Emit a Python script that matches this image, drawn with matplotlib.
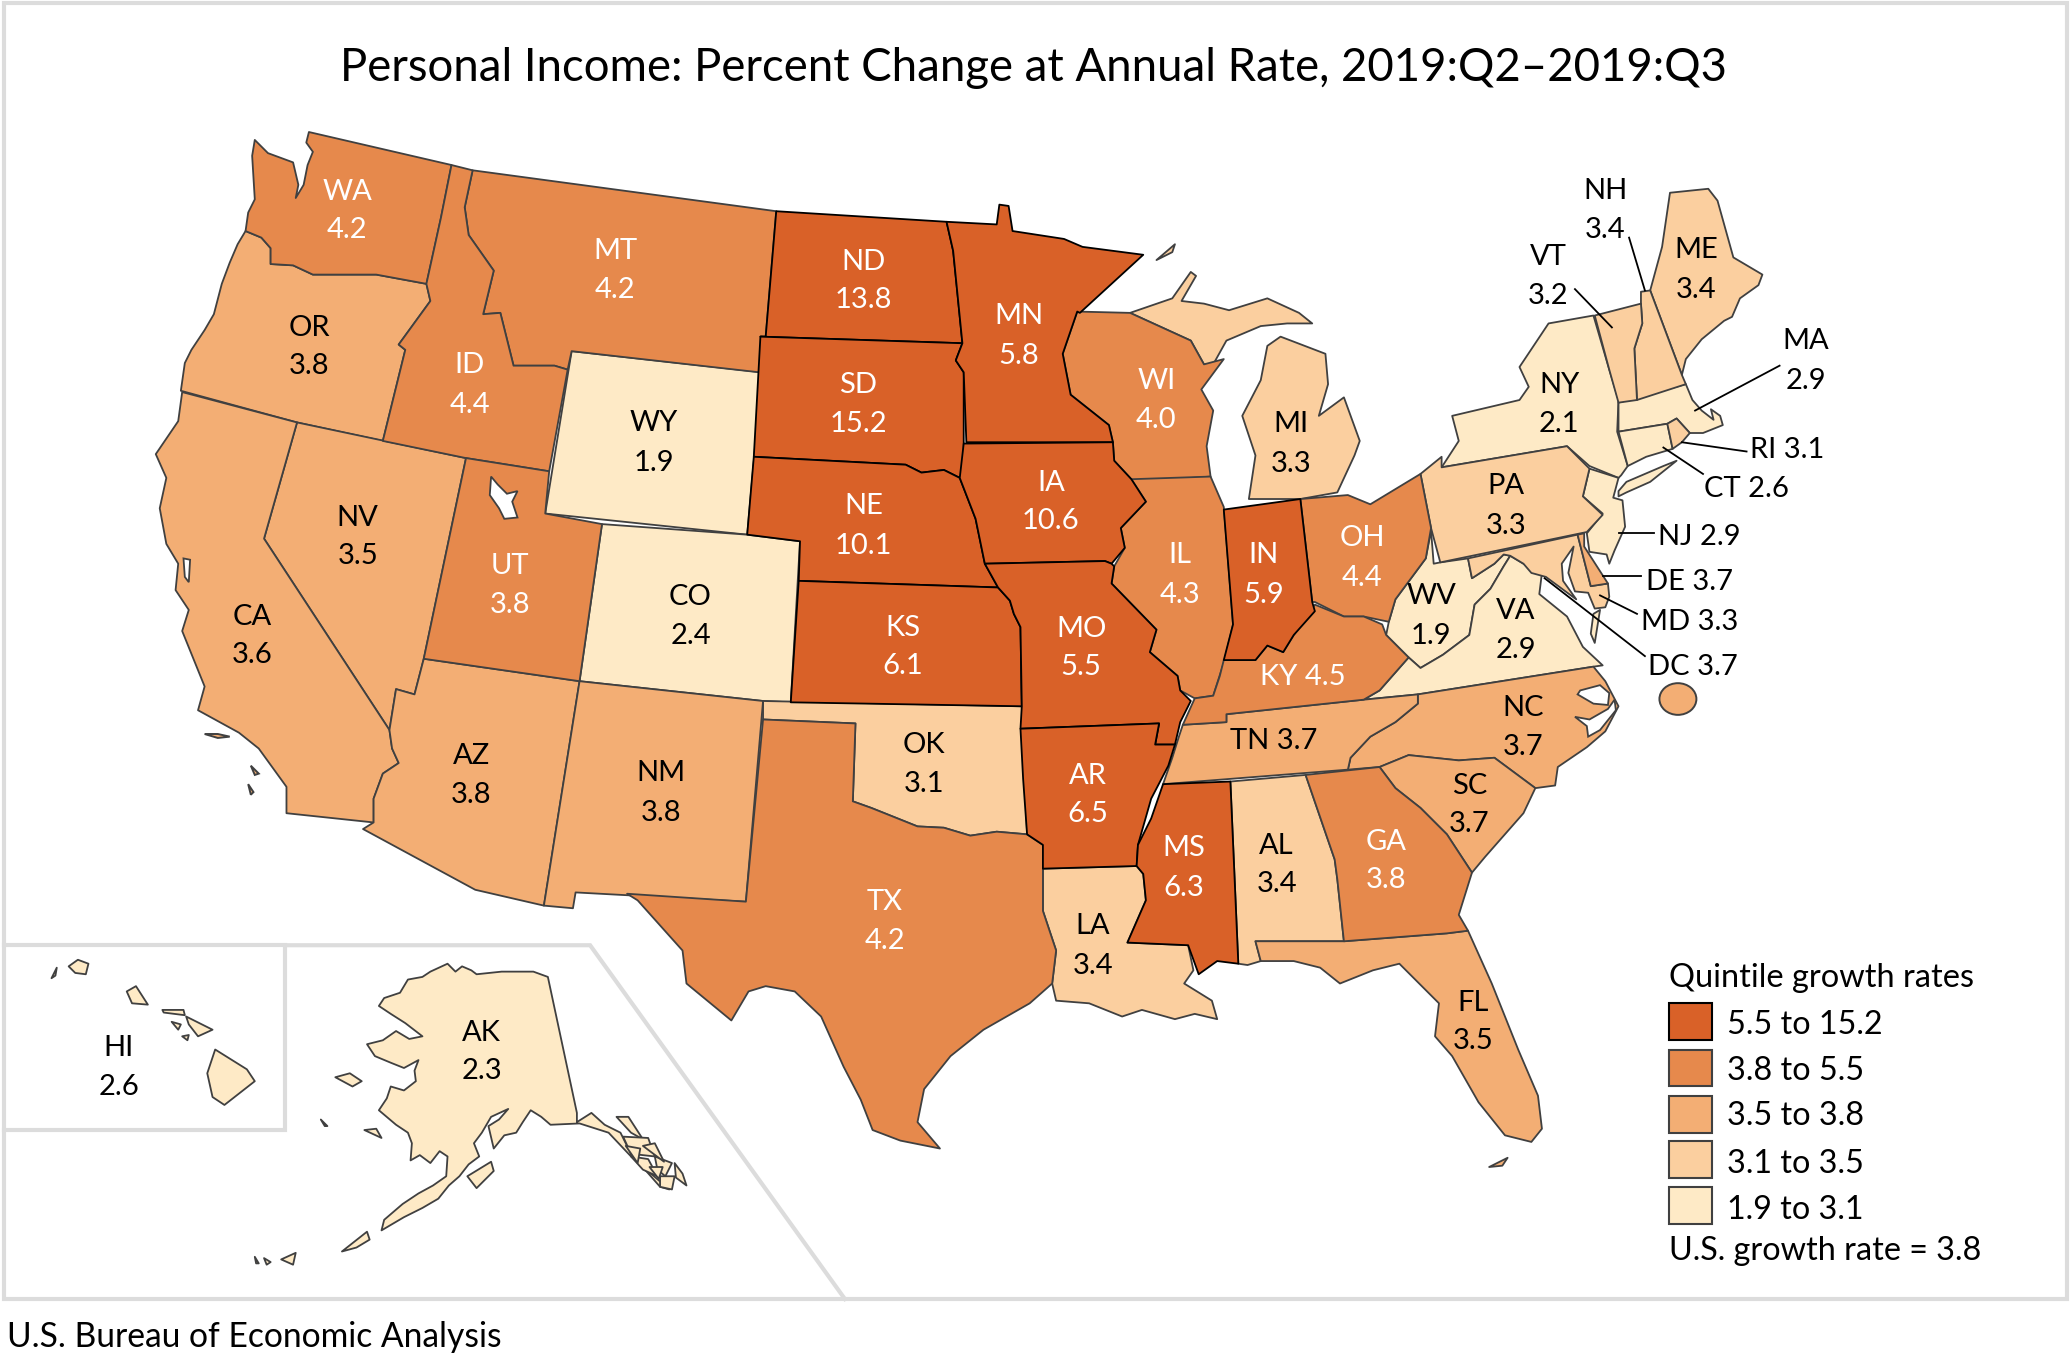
import matplotlib
matplotlib.use("Agg")
import matplotlib.pyplot as plt
from matplotlib.patches import Polygon, Rectangle, Ellipse

plt.rcParams['font.family'] = ['Lato', 'DejaVu Sans']

TITLE = "Personal Income: Percent Change at Annual Rate, 2019:Q2\u20132019:Q3"
SOURCE = "U.S. Bureau of Economic Analysis"
LEGEND_TITLE = "Quintile growth rates"
LEGEND_LABELS = ["5.5 to 15.2", "3.8 to 5.5", "3.5 to 3.8", "3.1 to 3.5", "1.9 to 3.1"]
US_NOTE = "U.S. growth rate = 3.8"
PALETTE = ["#d96128", "#e6894c", "#f3ae74", "#fbcf9f", "#feeac6"]

STATES = ["WA","MT","ND","OR","ID","WY","SD","MN","WI","MI","NV","UT","CO","NE","IA","IL","IN","OH","PA","NY",
          "ME","NH","VT","MA","CA","KS","MO","WV","VA","AZ","NM","OK","AR","NC","SC","TX","MS","AL","GA","LA",
          "FL","HI","AK","KY","TN","RI","CT","NJ","DE","MD","DC"]
VALUES = [4.2,4.2,13.8,3.8,4.4,1.9,15.2,5.8,4.0,3.3,3.5,3.8,2.4,10.1,10.6,4.3,5.9,4.4,3.3,2.1,
          3.4,3.4,3.2,2.9,3.6,6.1,5.5,1.9,2.9,3.8,3.8,3.1,6.5,3.7,3.7,4.2,6.3,3.4,3.8,3.4,
          3.5,2.6,2.3,4.5,3.7,3.1,2.6,2.9,3.7,3.3,3.7]
QUINTILE = [1,1,0,2,1,4,0,0,1,3,2,1,4,0,0,1,0,1,3,4,
            3,3,3,4,2,0,0,4,4,2,2,3,0,2,2,1,0,3,1,3,
            2,4,4,1,2,3,4,4,2,3,2]

# Base-map geography (outlines, in image units)
OUTLINES = {
"WA":[[(234,100),(342,125),(334,165),(323,215),(285,208),(258,208),(237,208),(222,201),(205,200),(205,188),(198,180),(186,175),(188,161),(193,151),(191,118),(193,106),(203,116),(222,123),(226,140),(224,150),(230,140),(233,125),(237,115),(232,108)]],
"OR":[[(186,175),(198,180),(205,188),(205,200),(222,201),(237,208),(258,208),(285,208),(323,215),(326,228),(302,261),(307,265),(290,334),(225,320),(137,296),(140,275),(145,265),(155,250),(162,238),(168,215),(174,199),(180,185)]],
"CA":[[(138,297),(225,320),(200,408),(295,553),(297,567),(302,578),(290,586),(283,605),(283,623),(217,616),(217,596),(196,567),(181,555),(150,538),(155,520),(138,478),(143,462),(133,447),(135,427),(126,412),(121,385),(126,362),(118,344),(135,319)]],
"NV":[[(225,320),(353,347),(321,499),(314,526),(300,522),(295,553),(200,408)]],
"ID":[[(342,125),(358,129),(352,157),(355,178),(374,205),(366,238),(379,237),(389,277),(420,277),(430,280),(416,357),(353,347),(290,334),(307,265),(302,261),(326,228),(323,215),(334,165)]],
"MT":[[(358,129),(588,160),(580,255),(575,282),(433,266),(430,280),(420,277),(389,277),(379,237),(366,238),(374,205),(355,178),(352,157)]],
"ND":[[(588,160),(717,168),(722,190),(727,240),(729,260),(576,255),(580,255)]],
"SD":[[(576,255),(729,260),(724,273),(730,282),(730,362),(727,362),(715,356),(698,358),(686,352),(571,346)]],
"WY":[[(433,266),(577,282),(566,405),(413,389)]],
"UT":[[(353,347),(416,357),(413,389),(456,397),(439,516),(321,499)]],
"CO":[[(456,397),(566,405),(606,410),(599,532),(578,531),(439,516)]],
"NE":[[(571,346),(686,352),(698,358),(715,356),(727,362),(739,393),(746,427),(756,445),(605,440),(606,410),(566,405)]],
"KS":[[(605,440),(756,445),(765,455),(768,465),(773,475),(774,535),(599,532)]],
"AZ":[[(321,499),(439,516),(412,686),(360,674),(275,628),(283,623),(283,605),(290,586),(302,578),(297,567),(295,553),(300,522),(314,526)]],
"NM":[[(439,516),(578,531),(565,683),(436,676),(434,688),(412,686)]],
"OK":[[(578,531),(774,535),(778,632),(755,630),(735,633),(715,627),(695,626),(675,618),(660,612),(646,607),(648,548),(578,545)]],
"TX":[[(578,545),(648,548),(646,607),(660,612),(675,618),(695,626),(715,627),(735,633),(755,630),(778,632),(790,640),(790,690),(800,720),(797,745),(780,760),(745,780),(720,800),(700,825),(695,850),(712,870),(682,864),(661,856),(652,833),(639,808),(622,770),(602,751),(580,747),(567,751),(554,773),(520,745),(517,720),(483,682),(475,677),(565,683)]],
"MN":[[(717,168),(755,170),(757,155),(764,156),(767,175),(806,181),(820,187),(866,193),(818,237),(816,236),(805,268),(811,299),(840,322),(843,335),(732,335),(730,282),(724,273),(729,260),(727,240),(722,190)]],
"IA":[[(730,336),(843,335),(844,349),(857,363),(868,380),(849,400),(852,415),(842,427),(837,425),(746,427),(739,393),(727,362)]],
"MO":[[(746,427),(837,425),(842,427),(844,429),(842,442),(876,477),(871,494),(892,512),(894,523),(902,531),(894,547),(890,564),(875,564),(878,548),(773,552),(774,535),(773,475),(768,465),(765,455),(756,445)]],
"AR":[[(773,552),(878,548),(875,564),(890,564),(885,580),(872,605),(862,640),(861,656),(790,658),(790,640),(778,632),(775,590)]],
"LA":[[(790,658),(861,656),(866,662),(868,682),(854,714),(900,716),(904,735),(897,745),(918,758),(922,772),(905,768),(890,772),(865,765),(850,770),(825,760),(800,758),(797,745),(800,720),(790,690)]],
"WI":[[(816,236),(856,237),(902,258),(912,276),(927,272),(910,295),(919,311),(914,338),(917,361),(859,365),(857,363),(844,349),(843,335),(840,322),(811,299),(805,268)]],
"IL":[[(857,363),(917,361),(927,384),(934,473),(927,502),(919,527),(905,529),(894,523),(892,512),(871,494),(876,477),(842,442),(844,429),(852,415),(849,400),(868,380)]],
"IN":[[(927,386),(985,378),(994,456),(996,463),(980,481),(972,494),(960,489),(951,500),(927,500),(934,473)]],
"OH":[[(985,378),(1021,375),(1038,382),(1076,359),(1084,400),(1080,423),(1057,454),(1052,471),(1033,467),(1018,467),(996,456),(994,456)]],
"KY":[[(927,500),(951,500),(960,489),(972,494),(980,481),(996,458),(1018,467),(1033,467),(1047,473),(1050,481),(1067,498),(1045,523),(1033,530),(929,541),(929,547),(896,549),(905,529),(919,527),(924,512)]],
"TN":[[(896,549),(929,547),(929,541),(1033,530),(1074,526),(1074,533),(1057,547),(1038,558),(1023,574),(1021,583),(881,594),(888,574),(893,558)]],
"MS":[[(881,594),(932,592),(938,730),(922,728),(908,738),(900,716),(854,714),(868,682),(866,662),(861,656),(862,640),(872,620)]],
"AL":[[(932,592),(989,587),(1011,651),(1013,666),(1018,713),(951,713),(955,728),(945,731),(938,730)]],
"GA":[[(989,587),(1045,581),(1057,597),(1076,612),(1096,632),(1115,661),(1105,693),(1112,705),(1096,707),(1018,713),(1013,666),(1011,651)]],
"FL":[[(951,713),(1018,713),(1096,707),(1112,705),(1130,745),(1150,795),(1165,830),(1168,855),(1160,865),(1140,860),(1120,835),(1100,800),(1087,785),(1090,760),(1060,730),(1040,735),(1015,745),(1000,733),(980,728),(955,728)],
      [(1128,884),(1142,877),(1138,883)]],
"SC":[[(1045,581),(1067,572),(1105,576),(1132,574),(1163,597),(1154,616),(1125,649),(1115,661),(1096,632),(1076,612),(1057,597)]],
"NC":[[(1074,526),(1207,505),(1216,516),(1226,535),(1216,554),(1202,566),(1180,581),(1178,595),(1163,597),(1132,574),(1105,576),(1067,572),(1045,581),(1021,583),(1023,574),(1038,558),(1057,547),(1074,533)]],
"VA":[[(1067,498),(1076,506),(1093,496),(1113,481),(1117,458),(1129,446),(1139,429),(1144,421),(1154,427),(1168,434),(1166,450),(1187,467),(1199,490),(1214,504),(1207,505),(1074,526),(1033,530),(1045,523)],
      [(1212,462),(1208,487),(1205,480),(1207,465)]],
"WV":[[(1084,402),(1086,427),(1091,426),(1112,423),(1115,438),(1132,427),(1139,420),(1144,421),(1139,429),(1129,446),(1117,458),(1113,481),(1093,496),(1076,506),(1067,498),(1050,481),(1052,471),(1057,454),(1080,423)]],
"PA":[[(1092,354),(1187,338),(1204,355),(1199,376),(1214,390),(1202,403),(1091,426),(1084,400),(1076,359),(1092,346)]],
"NY":[[(1092,354),(1105,334),(1100,315),(1151,303),(1158,293),(1151,278),(1173,245),(1207,239),(1219,280),(1226,303),(1225,327),(1233,353),(1228,360),(1226,362),(1204,353),(1187,338)],
      [(1226,372),(1232,365),(1260,353),(1270,349),(1250,365),(1232,373),(1226,376)]],
"NJ":[[(1204,355),(1226,362),(1222,377),(1229,379),(1231,399),(1223,417),(1219,427),(1217,420),(1204,418),(1202,404),(1214,389),(1199,376)]],
"DE":[[(1195,405),(1200,404),(1200,414),(1218,442),(1205,444)]],
"MD":[[(1112,423),(1195,405),(1205,444),(1218,442),(1219,452),(1216,460),(1208,461),(1203,449),(1193,448),(1188,434),(1192,414),(1183,427),(1184,440),(1194,454),(1171,437),(1160,434),(1154,427),(1144,421),(1139,420),(1132,427),(1115,438)]],
"VT":[[(1208,239),(1243,230),(1244,245),(1238,264),(1240,303),(1226,305),(1219,280)]],
"NH":[[(1243,221),(1250,220),(1274,284),(1277,291),(1240,303),(1238,264),(1244,245),(1243,230)]],
"ME":[[(1265,146),(1294,143),(1301,152),(1313,195),(1335,208),(1332,216),(1318,226),(1312,240),(1306,243),(1289,257),(1277,272),(1274,284),(1250,220),(1259,187)]],
"MA":[[(1226,305),(1277,291),(1282,303),(1289,311),(1298,318),(1296,310),(1303,315),(1305,322),(1290,328),(1284,328),(1280,328),(1270,317),(1263,321),(1226,327)]],
"RI":[[(1263,321),(1270,317),(1280,328),(1274,335),(1267,340)]],
"CT":[[(1226,327),(1263,321),(1267,340),(1247,346),(1233,353)]],
"MI":[[(946,378),(951,345),(941,315),(955,288),(960,262),(970,255),(1004,268),(1006,291),(999,315),(1018,301),(1030,334),(1026,345),(1013,373),(985,378)],
      [(856,237),(888,226),(902,206),(906,209),(895,228),(912,230),(931,235),(960,226),(984,237),(994,245),(975,245),(955,247),(929,258),(919,276),(912,276),(902,258)],
      [(876,197),(890,185),(888,191)]],
"HI":[[(52,732),(59,727),(67,730),(65,738),(57,737)],[(39,741),(43,733),(42,739)],[(96,751),(103,747),(112,761),(100,760)],
      [(123,765),(139,765),(140,769),(124,767)],[(130,774),(137,776),(135,780)],[(141,770),(161,780),(150,785),(143,776)],
      [(138,785),(143,784),(142,788)],[(163,795),(187,810),(193,819),(170,837),(161,831),(157,813)]],
"AK":[[(339,730),(345,736),(350,732),(357,735),(361,738),(380,736),(404,736),(415,740),(437,843),(437,850),(448,843),(458,852),(470,858),(478,874),(500,899),(507,901),(478,876),(461,858),(439,851),(417,852),(410,846),(402,841),(396,850),(391,858),(382,860),(374,870),(370,853),(378,848),(385,840),(372,846),(365,858),(359,866),(363,876),(355,882),(348,891),(340,898),(332,908),(320,915),(306,922),(289,932),(291,924),(305,912),(317,904),(328,898),(338,891),(339,876),(333,872),(326,881),(318,875),(311,879),(312,866),(309,858),(300,852),(287,841),(293,832),(296,823),(306,826),(315,819),(314,811),(317,803),(306,809),(296,805),(284,800),(278,791),(290,788),(300,781),(310,787),(320,785),(307,775),(296,768),(287,762),(291,756),(303,752),(309,742),(320,740),(326,736)],
      [(354,891),(372,880),(374,887),(361,900)],[(259,948),(278,933),(280,939),(270,945)],[(254,816),(265,813),(274,819),(267,823)],
      [(276,856),(285,855),(289,862)],[(243,848),(248,853),(246,853)],[(193,952),(196,957),(194,957)],[(200,953),(205,956),(202,958)],[(213,954),(224,949),(222,958)],
      [(467,846),(476,846),(487,863),(478,858)],[(472,861),(491,862),(496,876),(478,874)],[(478,876),(491,878),(498,891),(487,886)],
      [(496,876),(509,881),(504,891),(498,886)],[(500,891),(511,891),(509,901),(500,899)],[(511,881),(517,889),(520,898),(512,892)],
      [(474,868),(485,870),(483,881)],[(487,868),(496,866),(503,880)],[(492,884),(502,884),(499,893)]],
}
ISLANDS_CA = [[(155,556),(165,556),(174,558),(165,559)],[(190,580),(196,586),(193,587)],[(188,594),(192,600),(190,602)]]
WATER = [[(372,361),(377,367),(384,374),(392,372),(388,380),(392,392),(382,393),(378,385),(371,375)],
         [(139,423),(144,424),(143,441),(140,437)],
         [(1197,523),(1212,519),(1219,525),(1218,534),(1207,533),(1195,526)],
         [(1193,543),(1204,545),(1218,537),(1223,530),(1224,538),(1212,553),(1203,558),(1202,550)]]

# line centres of each state's label: (x, y of the first line, y of the second line or None)
LABEL_POS = {
"WA":(263,144,173),"MT":(466,189,218),"ND":(654,197,226),"OR":(234,247,276),"ID":(356,275,305),"WY":(495,319,349),
"SD":(650,290,320),"MN":(772,238,268),"WI":(876,287,317),"MI":(978,320,350),"NV":(271,391,420),"UT":(386,427,457),
"CO":(523,451,480),"NE":(654,382,412),"IA":(796,364,393),"IL":(894,419,449),"IN":(957,419,449),"OH":(1032,406,436),
"PA":(1141,367,397),"NY":(1181,290,320),"ME":(1285,188,218),"NH":(1216,143,173),"VT":(1173,193,223),"MA":(1368,257,287),
"CA":(191,466,495),"KS":(684,474,503),"MO":(819,475,504),"WV":(1084,450,480),"VA":(1148,461,491),"AZ":(357,571,601),
"NM":(501,584,614),"OK":(700,563,592),"AR":(824,586,615),"NC":(1154,535,564),"SC":(1113,594,623),"TX":(670,682,711),
"MS":(897,641,671),"AL":(967,639,668),"GA":(1050,636,665),"LA":(828,700,730),"FL":(1116,758,787),"HI":(90,792,822),
"AK":(365,781,810),"KY":(987,511,None),"TN":(965,560,None),"RI":(1354,339,None),"CT":(1323,369,None),"NJ":(1287,405,None),
"DE":(1280,439,None),"MD":(1280,470,None),"DC":(1282,504,None)}
OUTSIDE = ["NH","VT","MA","RI","CT","NJ","DE","MD","DC","WV"]
LEADERS = [((1234,180),(1246,220)),((1193,219),(1221,248)),((1348,277),(1284,311)),((1323,342),(1274,335)),
           ((1290,359),(1260,339)),((1253,404),(1226,404)),((1243,436),(1214,436)),((1240,465),(1212,451)),((1246,497),(1170,438))]

W, H = 1568, 1026.4
EDGE = "#404040"
FRAME = "#dcdcdc"
DY = 1.5
fig = plt.figure(figsize=(20.70, 13.55), dpi=100)
ax = fig.add_axes([0, 0, 1, 1])
ax.set_xlim(0, W); ax.set_ylim(H, 0); ax.axis("off")

ax.add_patch(Rectangle((3, 2), 1563, 982, fill=False, ec=FRAME, lw=3, zorder=1))
ax.plot([3, 216, 216, 3], [716, 716, 856, 856], color=FRAME, lw=3, zorder=1, solid_joinstyle="miter")
ax.plot([216, 447, 640], [716, 716, 984], color=FRAME, lw=3, zorder=1, solid_joinstyle="miter")

for level in [4, 3, 2, 1, 0]:
    edge = "black" if level == 0 else EDGE
    for st, q in zip(STATES, QUINTILE):
        if q != level:
            continue
        if st == "DC":
            ax.add_patch(Ellipse((1271, 529.5), 28, 24, fc=PALETTE[q], ec=EDGE, lw=1.4, zorder=3))
            continue
        for part in OUTLINES[st]:
            ax.add_patch(Polygon(part, closed=True, fc=PALETTE[q], ec=edge, lw=1.3, zorder=2, joinstyle="round"))
for part in ISLANDS_CA:
    ax.add_patch(Polygon(part, closed=True, fc=PALETTE[2], ec=EDGE, lw=1.4, zorder=2))
for part in WATER:
    ax.add_patch(Polygon(part, closed=True, fc="white", ec=EDGE, lw=1.3, zorder=3))

for a, b in LEADERS:
    ax.plot([a[0], b[0]], [a[1], b[1]], color="black", lw=1.3, zorder=4)

LABEL_SIZE = 21
for st, val, q in zip(STATES, VALUES, QUINTILE):
    x, y1, y2 = LABEL_POS[st]
    color = "white" if (q <= 1 and st not in OUTSIDE) else "black"
    if y2 is None:
        ax.text(x, y1 + DY, f"{st} {val:.1f}", ha="center", va="center", fontsize=LABEL_SIZE, color=color, zorder=5)
    else:
        ax.text(x, y1 + DY, st, ha="center", va="center", fontsize=LABEL_SIZE, color=color, zorder=5)
        ax.text(x, y2 + DY, f"{val:.1f}", ha="center", va="center", fontsize=LABEL_SIZE, color=color, zorder=5)

ax.text(783, 50 + DY, TITLE, ha="center", va="center", fontsize=32.8, color="black")
ax.text(5, 1011 + DY, SOURCE, ha="left", va="center", fontsize=24.2, color="black")

ax.text(1264, 739 + DY, LEGEND_TITLE, ha="left", va="center", fontsize=23.4, color="black")
for i, (lab, col) in enumerate(zip(LEGEND_LABELS, PALETTE)):
    ytop = [760, 795, 830, 864, 899][i]
    ax.add_patch(Rectangle((1264, ytop), 33, 28, fc=col, ec="black" if i == 0 else EDGE, lw=1.5, zorder=3))
    ax.text(1308, [775, 810, 844, 880, 915][i] + DY, lab, ha="left", va="center", fontsize=23.3, color="black")
ax.text(1264, 946 + DY, US_NOTE, ha="left", va="center", fontsize=23.3, color="black")

fig.savefig("out.png", dpi=100, facecolor="white")
